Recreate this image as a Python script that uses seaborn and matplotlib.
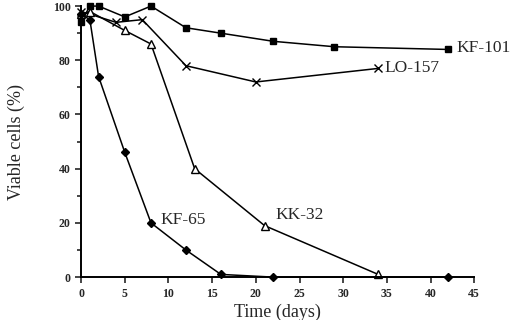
import pandas as pd
import matplotlib.pyplot as plt
import seaborn as sns

# KF-101 (filled squares)
kf101_days = [0, 1, 2, 5, 8, 12, 16, 22, 29, 42]
kf101_viable = [94, 100, 100, 96, 100, 92, 90, 87, 85, 84]

# LO-157 (crosses)
lo157_days = [0, 4, 7, 12, 20, 34]
lo157_viable = [98, 94, 95, 78, 72, 77]

# KK-32 (open triangles)
kk32_days = [0, 1, 5, 8, 13, 21, 34]
kk32_viable = [97, 98, 91, 86, 40, 19, 1]

# KF-65 (filled diamonds)
kf65_days = [0, 1, 2, 5, 8, 12, 16, 22, 42]
kf65_viable = [97, 95, 74, 46, 20, 10, 1, 0, 0]

sns.set_theme(style="ticks")
plt.rcParams['font.family'] = ['Liberation Serif', 'DejaVu Serif']

fig = plt.figure(figsize=(5.2, 3.2), dpi=100)
ax = fig.add_axes([0.156, 0.134, 0.756, 0.847])

series = [
    (kf101_days, kf101_viable, 's', 'black', 5),
    (lo157_days, lo157_viable, 'x', 'black', 6),
    (kk32_days, kk32_viable, '^', 'white', 6),
    (kf65_days, kf65_viable, 'D', 'black', 4),
]
for days, vals, mk, fc, ms in series:
    df = pd.DataFrame({'day': days, 'viable': vals})
    sns.lineplot(data=df, x='day', y='viable', ax=ax, color='black', lw=1.1,
                 marker=mk, markersize=ms, markerfacecolor=fc,
                 markeredgecolor='black', markeredgewidth=1.0, clip_on=False)

lab_kw = dict(fontsize=12.5, va='center', ha='left')
ax.text(43.0, 84.5, 'KF-101', **lab_kw)
ax.text(34.7, 77, 'LO-157', **lab_kw)
ax.text(22.3, 23, 'KK-32', **lab_kw)
ax.text(9.1, 21, 'KF-65', **lab_kw)

ax.set_xlim(0, 45)
ax.set_ylim(0, 100)
ax.set_xticks(range(0, 46, 5))
ax.set_yticks(range(0, 101, 20))
ax.set_yticks(range(10, 100, 20), minor=True)
ax.tick_params(axis='both', labelsize=8.5, direction='out', width=1.2, length=4)
ax.tick_params(axis='y', which='minor', direction='out', width=1.2, length=3)
for lab in ax.get_xticklabels() + ax.get_yticklabels():
    lab.set_fontweight('bold')
ax.set_xlabel('Time (days)', fontsize=13, labelpad=3)
ax.set_ylabel('Viable cells (%)', fontsize=13, labelpad=20)
sns.despine(ax=ax)
for s in ['left', 'bottom']:
    ax.spines[s].set_linewidth(1.4)
    ax.spines[s].set_color('black')

fig.savefig('out.png', dpi=100)
